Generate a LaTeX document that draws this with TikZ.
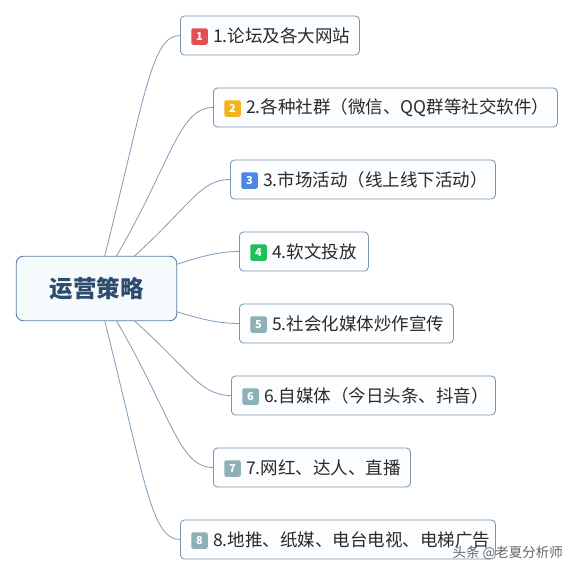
\documentclass[tikz,border=0pt]{standalone}
\usepackage{fontspec}
\setmainfont{Noto Sans CJK SC}
\newfontfamily\cjk{Noto Sans CJK SC}
\definecolor{linecol}{HTML}{7F9DB8}
\definecolor{bordercol}{HTML}{7A95AE}
\definecolor{rootborder}{HTML}{5F7F9E}
\definecolor{rootfill}{HTML}{F5FAFD}
\definecolor{boxfill}{HTML}{FBFDFE}
\definecolor{roottext}{HTML}{2E4C6E}
\definecolor{textcol}{HTML}{2A2A2A}
\definecolor{bA}{HTML}{E04F51}
\definecolor{bB}{HTML}{F2B41C}
\definecolor{bC}{HTML}{4C87E5}
\definecolor{bD}{HTML}{1FBE58}
\definecolor{bE}{HTML}{8DB1B6}
\begin{document}
\begin{tikzpicture}[x=1pt,y=-1pt,
  rootbox/.style={draw=rootborder, fill=rootfill, rounded corners=7pt, line width=0.9pt,
    minimum width=160.5pt, minimum height=64.5pt, inner sep=0pt,
    font=\cjk\fontsize{23.5}{26}\selectfont\bfseries, text=roottext},
  branch/.style={draw=bordercol, fill=boxfill, rounded corners=4pt, line width=0.8pt,
    minimum height=39pt, inner sep=0pt, anchor=west},
  badge/.style={fill=#1, rounded corners=2pt, minimum width=16.5pt, minimum height=16.5pt,
    inner sep=0pt, text=white, font=\fontsize{11}{11}\selectfont\bfseries},
  lbl/.style={anchor=west, inner sep=0pt, text=textcol, font=\cjk\fontsize{17.5}{20}\selectfont},
  link/.style={draw=linecol, line width=0.8pt}]
\useasboundingbox (0,0) rectangle (574,576);
\fill[white] (0,0) rectangle (574,576);

% branch boxes
\node[branch, minimum width=179pt] (n1) at (180,35.5) {};
\node[branch, minimum width=344pt] (n2) at (213,107.5) {};
\node[branch, minimum width=265pt] (n3) at (230,179.5) {};
\node[branch, minimum width=129pt] (n4) at (239,251.5) {};
\node[branch, minimum width=214pt] (n5) at (239,323.5) {};
\node[branch, minimum width=264pt] (n6) at (231,395.5) {};
\node[branch, minimum width=197pt] (n7) at (213,467.5) {};
\node[branch, minimum width=315pt] (n8) at (180,539.5) {};

% connectors (drawn from root centre, hidden under root box)
\coordinate (rc) at (96.5,288.5);
\draw[link] (rc) .. controls (145,100) and (150,35.5) .. (n1.west);
\draw[link] (rc) .. controls (170,175) and (175,107.5) .. (n2.west);
\draw[link] (rc) .. controls (188,215) and (195,179.5) .. (n3.west);
\draw[link] (rc) .. controls (170,270) and (200,251.5) .. (n4.west);
\draw[link] (rc) .. controls (170,307) and (200,323.5) .. (n5.west);
\draw[link] (rc) .. controls (188,362) and (195,395.5) .. (n6.west);
\draw[link] (rc) .. controls (170,402) and (175,467.5) .. (n7.west);
\draw[link] (rc) .. controls (145,477) and (150,539.5) .. (n8.west);

% root
\node[rootbox] (root) at (rc) {运营策略};

% badges and labels
\node[badge=bA] (k1) at ([xshift=19.5pt,yshift=-1pt]n1.west) {1};
\node[lbl] (t1) at ([xshift=33pt]n1.west) {1.论坛及各大网站};
\node[badge=bB] (k2) at ([xshift=19.5pt,yshift=-1pt]n2.west) {2};
\node[lbl] (t2) at ([xshift=33pt]n2.west) {2.各种社群（微信、QQ群等社交软件）};
\node[badge=bC] (k3) at ([xshift=19.5pt,yshift=-1pt]n3.west) {3};
\node[lbl] (t3) at ([xshift=33pt]n3.west) {3.市场活动（线上线下活动）};
\node[badge=bD] (k4) at ([xshift=19.5pt,yshift=-1pt]n4.west) {4};
\node[lbl] (t4) at ([xshift=33pt]n4.west) {4.软文投放};
\node[badge=bE] (k5) at ([xshift=19.5pt,yshift=-1pt]n5.west) {5};
\node[lbl] (t5) at ([xshift=33pt]n5.west) {5.社会化媒体炒作宣传};
\node[badge=bE] (k6) at ([xshift=19.5pt,yshift=-1pt]n6.west) {6};
\node[lbl] (t6) at ([xshift=33pt]n6.west) {6.自媒体（今日头条、抖音）};
\node[badge=bE] (k7) at ([xshift=19.5pt,yshift=-1pt]n7.west) {7};
\node[lbl] (t7) at ([xshift=33pt]n7.west) {7.网红、达人、直播};
\node[badge=bE] (k8) at ([xshift=19.5pt,yshift=-1pt]n8.west) {8};
\node[lbl] (t8) at ([xshift=33pt]n8.west) {8.地推、纸媒、电台电视、电梯广告};

% watermark
\node[anchor=east, inner sep=0pt, text=black!60, font=\cjk\fontsize{13.5}{15}\selectfont] (wm) at (563,553) {头条 @老夏分析师};
\end{tikzpicture}
\end{document}
